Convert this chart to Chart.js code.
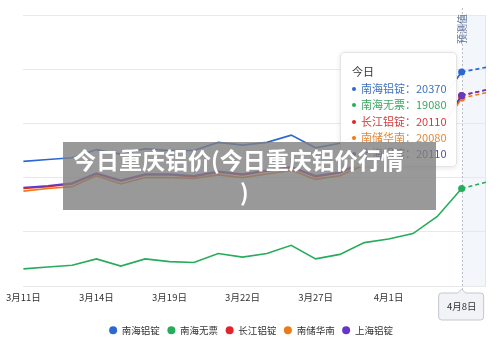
<!DOCTYPE html>
<html><head><meta charset="utf-8">
<script src="https://cdn.jsdelivr.net/npm/chart.js@4"></script>
<style>
html,body{margin:0;padding:0;background:#fff;}
#wrap{position:relative;width:500px;height:354px;overflow:hidden;font-family:"Noto Sans CJK SC","Noto Sans",sans-serif;}
#c{position:absolute;left:0;top:0;}
#tip{position:absolute;left:340px;top:52px;width:117px;height:115px;box-sizing:border-box;background:rgba(255,255,255,0.97);border:1px solid #e4e4e4;border-radius:4px;box-shadow:0 1px 5px rgba(0,0,0,0.10);padding:10px 0 0 11px;font-size:11px;white-space:nowrap;}
#tip .t{line-height:16px;color:#333;margin-bottom:1px;}
#tip .r{line-height:16.3px;}
#tip .d{display:inline-block;width:4px;height:4px;border-radius:50%;margin-right:5px;vertical-align:middle;position:relative;top:-1px;}
#title{position:absolute;left:63px;top:142px;width:373px;height:68px;background:rgba(128,128,128,0.8);color:#fff;font-weight:bold;font-size:23px;}
#title span{position:absolute;line-height:32px;white-space:nowrap;}
</style>
</head><body>
<div id="wrap">
<canvas id="c" width="500" height="354"></canvas>
<div id="tip"></div>
<div id="title"><span style="left:10px;top:1px;">今日重庆铝价(今日重庆铝价行情</span><span style="left:177px;top:33px;">)</span></div>
</div>
<script>
const dates = ['3月11日','3月12日','3月13日','3月14日','3月15日','3月18日','3月19日','3月20日','3月21日','3月22日','3月25日','3月26日','3月27日','3月28日','3月29日','4月1日','4月2日','4月3日','4月8日','4月9日'];
const shownTickIndices = [0,3,6,9,12,15];
const todayIndex = 18;
const seriesNames = ['南海铝锭','南海无票','长江铝锭','南储华南','上海铝锭'];
const nanhaiIngot = [19380,19400,19420,19510,19460,19520,19500,19500,19590,19560,19590,19670,19530,19580,19710,19750,19810,20000,20370,20420];
const nanhaiNoTax = [18190,18210,18230,18300,18220,18300,18270,18260,18360,18320,18360,18450,18300,18350,18480,18520,18580,18770,19080,19150];
const changjiang = [19080,19100,19130,19240,19160,19230,19230,19210,19260,19230,19270,19310,19210,19250,19370,19410,19470,19690,20110,20170];
const nanchuSouth = [19050,19080,19100,19220,19130,19200,19200,19190,19230,19200,19240,19280,19180,19220,19340,19380,19440,19660,20080,20140];
const shanghai = [19090,19110,19140,19250,19170,19240,19240,19220,19270,19240,19280,19320,19220,19260,19380,19420,19480,19700,20110,20170];
const seriesValues = [nanhaiIngot, nanhaiNoTax, changjiang, nanchuSouth, shanghai];
const colors = ['#2a68d4','#27ac5c','#e4232b','#ec7a16','#6338c6'];
const textColors = ['#3b70c2','#3aa862','#d23c3c','#e3883a','#5a4a9c'];
const drawOrder = [1,2,3,4,0];

const FONT = '"Noto Sans CJK SC","Noto Sans",sans-serif';

const forecastPlugin = {
  id:'forecast',
  beforeDraw(chart){
    const {ctx, chartArea:a, scales:{x}} = chart;
    const x0 = x.getPixelForValue(todayIndex);
    ctx.save();
    ctx.fillStyle = '#f3f6fb';
    ctx.fillRect(x0, a.top, a.right - x0, a.bottom - a.top);
    ctx.strokeStyle = '#e2e7ee'; ctx.lineWidth = 1;
    ctx.beginPath(); ctx.moveTo(a.right - 0.5, a.top); ctx.lineTo(a.right - 0.5, a.bottom); ctx.stroke();
    ctx.restore();
  },
  beforeDatasetsDraw(chart){
    const {ctx, scales:{x}} = chart;
    const x0 = Math.round(x.getPixelForValue(todayIndex)) + 0.5;
    ctx.save();
    ctx.strokeStyle = '#b9bec6'; ctx.lineWidth = 1; ctx.setLineDash([2,2]);
    ctx.beginPath(); ctx.moveTo(x0, 8); ctx.lineTo(x0, 292); ctx.stroke();
    ctx.setLineDash([]);
    ctx.translate(x0, 29); ctx.rotate(-Math.PI/2);
    ctx.fillStyle = '#5a7196'; ctx.font = '10px ' + FONT;
    ctx.textAlign = 'center'; ctx.textBaseline = 'middle';
    ctx.fillText('预测值', 0, 0);
    ctx.restore();
  },
  afterDraw(chart){
    const {ctx, scales:{x}} = chart;
    const x0 = x.getPixelForValue(todayIndex);
    const l = x0 - 23, r = x0 + 22, t = 293, b = 320, rad = 3;
    ctx.save();
    ctx.fillStyle = '#f1f3f6'; ctx.strokeStyle = '#c3c8cf'; ctx.lineWidth = 1;
    ctx.beginPath();
    ctx.moveTo(l + rad, t);
    ctx.lineTo(x0 - 4, t); ctx.lineTo(x0, t - 4); ctx.lineTo(x0 + 4, t);
    ctx.lineTo(r - rad, t); ctx.arcTo(r, t, r, t + rad, rad);
    ctx.lineTo(r, b - rad); ctx.arcTo(r, b, r - rad, b, rad);
    ctx.lineTo(l + rad, b); ctx.arcTo(l, b, l, b - rad, rad);
    ctx.lineTo(l, t + rad); ctx.arcTo(l, t, l + rad, t, rad);
    ctx.closePath(); ctx.fill(); ctx.stroke();
    ctx.fillStyle = '#333'; ctx.font = '9.5px ' + FONT;
    ctx.textAlign = 'center'; ctx.textBaseline = 'middle';
    ctx.fillText(dates[todayIndex], x0, 306.5);
    ctx.restore();
  }
};

const datasets = seriesNames.map((name, i) => ({
  label: name,
  data: seriesValues[i],
  borderColor: colors[i],
  backgroundColor: colors[i],
  borderWidth: 1.6,
  tension: 0,
  order: drawOrder[i],
  pointRadius: ctx => ctx.dataIndex === todayIndex ? 3.5 : 0,
  pointHoverRadius: 0,
  pointBorderWidth: 0,
  pointBackgroundColor: colors[i],
  segment: { borderDash: ctx => ctx.p0DataIndex >= todayIndex ? [4,3] : undefined }
}));

const chart = new Chart(document.getElementById('c'), {
  type: 'line',
  data: { labels: dates, datasets },
  plugins: [forecastPlugin],
  options: {
    responsive: false, animation: false, events: [],
    layout: { padding: { left: 16, right: 14, top: 15, bottom: 9 } },
    plugins: {
      legend: { position: 'bottom', labels: { usePointStyle: true, pointStyle: 'circle', pointStyleWidth: 8, boxWidth: 8, boxHeight: 5.66, padding: 7.5, color: '#333', font: { size: 9.5, family: FONT },
        sort: (a, b) => a.datasetIndex - b.datasetIndex } },
      tooltip: { enabled: false }
    },
    scales: {
      x: {
        offset: false,
        grid: { display: false, drawTicks: false },
        border: { display: false },
        ticks: { autoSkip: false, maxRotation: 0, padding: 6, color: '#333', font: { size: 9.5, family: FONT },
          callback: (v, i) => shownTickIndices.includes(i) ? dates[i] : '' },
        afterFit: s => { s.height = 32; }
      },
      y: {
        min: 18000, max: 21000,
        grid: { color: '#e8e8e8', drawTicks: false },
        border: { display: false },
        ticks: { display: false, stepSize: 600 }
      }
    }
  }
});

const tip = document.getElementById('tip');
let html = '<div class="t">今日</div>';
seriesNames.forEach((n, i) => {
  html += '<div class="r" style="color:' + textColors[i] + '"><span class="d" style="background:' + colors[i] + '"></span>' + n + '：' + seriesValues[i][todayIndex] + '</div>';
});
tip.innerHTML = html;
</script>
</body></html>
